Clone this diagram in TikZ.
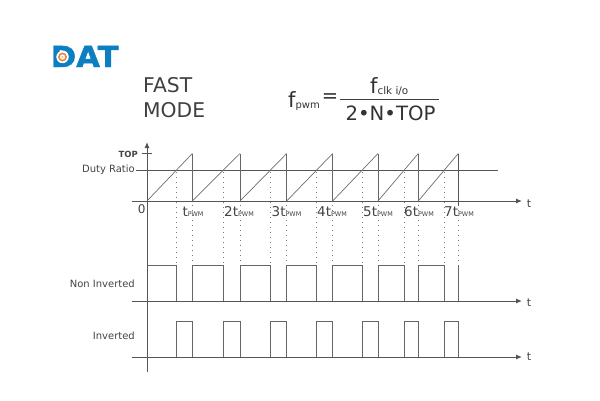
\documentclass[tikz,border=0pt]{standalone}
\usepackage{fontspec}
\setmainfont{DejaVu Sans}
\newfontfamily\logofont[FakeBold=1.6,FakeStretch=1.06]{DejaVu Sans Bold}
\definecolor{ink}{HTML}{555555}
\definecolor{txt}{HTML}{444444}
\definecolor{logoblue}{HTML}{0B7FC2}
\definecolor{logoorange}{HTML}{E8873A}
\usetikzlibrary{arrows.meta}
\tikzset{
  axisline/.style={ink,line width=0.95pt},
  axisarrow/.style={axisline,-{Latex[length=6pt,width=5pt]}},
  sig/.style={draw=ink!90,line width=1pt},
  saw/.style={draw=ink!85,line width=0.7pt},
  guide/.style={ink!80,line width=0.8pt,dash pattern=on 1pt off 4pt},
  lab/.style={text=txt,font=\fontsize{10}{12}\selectfont,inner sep=0pt},
  tick/.style={text=txt,font=\fontsize{13.5}{16}\selectfont,inner sep=0pt,anchor=base},
  form/.style={text=black!80,inner sep=0pt},
  titletext/.style={text=black!75,inner sep=0pt,anchor=base west,font=\fontsize{20.3}{22}\selectfont},
}
\newcommand{\tpwm}{t{\fontsize{6.4}{8}\selectfont PWM}}
\begin{document}
\begin{tikzpicture}[x=1pt,y=-1pt]
\useasboundingbox (0,0) rectangle (600,400);
% logo
\node[anchor=base west,inner sep=0pt,text=logoblue,font=\logofont\fontsize{29}{30}\selectfont] (logo) at (50.5,67) {DAT};
\fill[white] (62.5,57) circle (6.2);
\draw[logoorange,line width=1.6pt] (62.5,57) circle (3.6);
\fill[logoorange!60] (62.5,57) circle (1.2);
% title
\node[titletext] (fast) at (143,92.3) {FAST};
\node[titletext] (mode) at (143,117) {MODE};
% formula
\node[form,anchor=base west,font=\fontsize{21}{24}\selectfont] (fp) at (288,107) {f\raisebox{-1pt}{\fontsize{10}{12}\selectfont pwm}};
\node[form,font=\fontsize{19.5}{24}\selectfont] (eq) at (330,98) {=};
\node[form,anchor=base west,font=\fontsize{21}{24}\selectfont] (num) at (370,93) {f\raisebox{-1pt}{\fontsize{10.4}{12}\selectfont clk i/o}};
\node[form,anchor=base,font=\fontsize{19.7}{24}\selectfont] (den) at (390.5,120) {2\textbullet N\textbullet TOP};
\draw[black!75,line width=1pt] (340,99) -- (439,99);
% axis labels
\node[lab,anchor=east,font=\fontsize{8.5}{11}\selectfont\bfseries] (top) at (138,154.5) {TOP};
\node[lab,anchor=east] (duty) at (135,169.5) {Duty Ratio};
\node[lab,anchor=east] (noninv) at (135,284) {Non Inverted};
\node[lab,anchor=east] (inv) at (135,336) {Inverted};
\node[lab,font=\fontsize{12}{14}\selectfont] (zero) at (141.7,209) {0};
\node[lab,font=\fontsize{11}{12}\selectfont] (t1) at (529,204) {t};
\node[lab,font=\fontsize{11}{12}\selectfont] (t2) at (529,303) {t};
\node[lab,font=\fontsize{11}{12}\selectfont] (t3) at (529,357) {t};
% ticks
\node[tick] (a1) at (193,216) {\tpwm};
\node[tick] (a2) at (239,216) {2\tpwm};
\node[tick] (a3) at (286.5,216) {3\tpwm};
\node[tick] (a4) at (332,216) {4\tpwm};
\node[tick] (a5) at (378,216) {5\tpwm};
\node[tick] (a6) at (419,216) {6\tpwm};
\node[tick] (a7) at (459,216) {7\tpwm};
% axes
\coordinate (vb) at (147,372);
\coordinate (vt) at (147,142);
\draw[axisarrow] (vb) -- (vt);
\coordinate (h1a) at (132,201); \coordinate (h1b) at (522,201);
\coordinate (h2a) at (132,301); \coordinate (h2b) at (522,301);
\coordinate (h3a) at (132,357); \coordinate (h3b) at (522,357);
\draw[axisarrow] (h1a) -- (h1b);
\draw[axisarrow] (h2a) -- (h2b);
\draw[axisarrow] (h3a) -- (h3b);
\draw[axisline] (136,170) -- (498,170);
\draw[axisline] (142,153.5) -- (152,153.5);
% sawtooth and guides
\foreach \s/\c/\e in {147/176.3/192.3,192.3/223.3/240,240/270/286.7,286.7/316.3/332.7,332.7/362/378,378/404/418.3,418.3/444.3/458.3}{
  \draw[saw] (\s,201) -- (\e,153.5);
  \draw[sig] (\e,153.5) -- (\e,201);
  \draw[guide] (\c,172) -- (\c,264);
  \draw[guide] (\e,205) -- (\e,264);
}
\draw[axisline] (458.3,153.5) -- (458.3,205);
% non inverted
\draw[sig] (147,265) -- (176.3,265) -- (176.3,301);
\foreach \a/\b in {192.3/223.3,240/270,286.7/316.3,332.7/362,378/404,418.3/444.3}{
  \draw[sig] (\a,301) -- (\a,265) -- (\b,265) -- (\b,301);
}
\draw[sig] (458.3,265) -- (458.3,301);
% inverted
\foreach \a/\b in {176.3/192.3,223.3/240,270/286.7,316.3/332.7,362/378,404/418.3,444.3/458.3}{
  \draw[sig] (\a,357) -- (\a,321) -- (\b,321) -- (\b,357);
}
\end{tikzpicture}
\end{document}
